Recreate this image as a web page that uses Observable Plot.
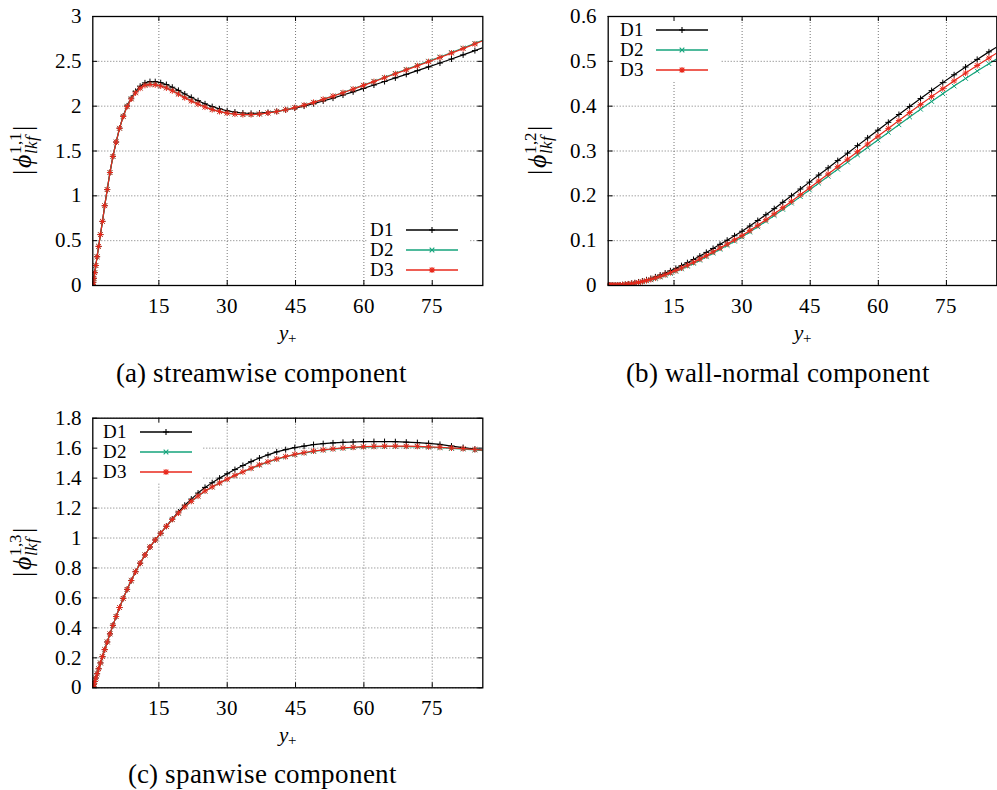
<!DOCTYPE html>
<html><head><meta charset="utf-8">
<script src="https://cdn.jsdelivr.net/npm/d3@7"></script>
<script src="https://cdn.jsdelivr.net/npm/@observablehq/plot@0.6"></script>
<style>
@font-face { font-family: "RefSerif"; font-style: normal; font-weight: 400;
  src: local("Liberation Serif"), local("LiberationSerif"), local("LiberationSerif-Regular"),
       local("DejaVu Serif"), local("DejaVuSerif"), local("Noto Serif"), local("NotoSerif-Regular"),
       local("FreeSerif"), local("Nimbus Roman"), local("NimbusRoman-Regular"), local("Times New Roman"); }
@font-face { font-family: "RefSerif"; font-style: italic; font-weight: 400;
  src: local("Liberation Serif Italic"), local("LiberationSerif-Italic"),
       local("DejaVu Serif Italic"), local("DejaVuSerif-Italic"), local("Noto Serif Italic"), local("NotoSerif-Italic"),
       local("FreeSerif Italic"), local("FreeSerifItalic"), local("Nimbus Roman Italic"), local("NimbusRoman-Italic"), local("Times New Roman Italic"); }
html,body{margin:0;padding:0;background:#fff;}
#root{position:relative;width:997px;height:790px;overflow:hidden;background:#fff;}
#root svg{position:absolute;}
</style></head><body>
<div id="root"></div>
<script>
// wall distance y+
const yPlus = [0.5, 0.526, 0.605, 0.736, 0.92, 1.156, 1.444, 1.784, 2.177, 2.621, 3.117, 3.665, 4.265, 4.916, 5.618, 6.371, 7.175, 8.029, 8.934, 9.889, 10.893, 11.947, 13.05, 14.202, 15.403, 16.651, 17.947, 19.291, 20.681, 22.118, 23.602, 25.13, 26.705, 28.325, 29.988, 31.695, 33.446, 35.24, 37.075, 38.954, 40.873, 42.832, 44.833, 46.871, 48.951, 51.067, 53.221, 55.413, 57.641, 59.905, 62.204, 64.537, 66.905, 69.305, 71.739, 74.203, 76.698, 79.225, 81.779, 84.365, 86.976];

const seriesNames = ["D1", "D2", "D3"];
const seriesColors = ["#000000", "#14a37b", "#e8291c"];

const xTicks = [15, 30, 45, 60, 75];
const aYTicks = [0, 0.5, 1, 1.5, 2, 2.5, 3];
const bYTicks = [0, 0.1, 0.2, 0.3, 0.4, 0.5, 0.6];
const cYTicks = [0, 0.2, 0.4, 0.6, 0.8, 1, 1.2, 1.4, 1.6, 1.8];

// (a) streamwise component
const aD1 = [0, 0.009, 0.036, 0.08, 0.143, 0.223, 0.321, 0.436, 0.568, 0.715, 0.89, 1.07, 1.26, 1.44, 1.6, 1.755, 1.89, 2.003, 2.09, 2.165, 2.222, 2.26, 2.274, 2.273, 2.262, 2.241, 2.211, 2.176, 2.136, 2.098, 2.061, 2.026, 1.995, 1.97, 1.949, 1.934, 1.924, 1.92, 1.922, 1.93, 1.942, 1.958, 1.978, 2.001, 2.028, 2.058, 2.09, 2.124, 2.16, 2.198, 2.236, 2.275, 2.315, 2.355, 2.396, 2.438, 2.481, 2.526, 2.572, 2.62, 2.67];
const aD2 = [0, 0.009, 0.036, 0.08, 0.143, 0.223, 0.321, 0.436, 0.568, 0.715, 0.89, 1.07, 1.26, 1.44, 1.6, 1.754, 1.887, 1.998, 2.083, 2.152, 2.203, 2.235, 2.245, 2.241, 2.228, 2.205, 2.174, 2.137, 2.097, 2.06, 2.024, 1.991, 1.963, 1.94, 1.923, 1.912, 1.906, 1.906, 1.912, 1.924, 1.941, 1.961, 1.985, 2.012, 2.044, 2.078, 2.114, 2.153, 2.193, 2.235, 2.278, 2.321, 2.366, 2.41, 2.455, 2.502, 2.549, 2.598, 2.648, 2.7, 2.754];
const aD3 = [0, 0.009, 0.036, 0.08, 0.143, 0.223, 0.321, 0.436, 0.568, 0.715, 0.89, 1.07, 1.26, 1.44, 1.6, 1.753, 1.885, 1.995, 2.08, 2.148, 2.2, 2.232, 2.242, 2.238, 2.225, 2.203, 2.172, 2.135, 2.095, 2.058, 2.023, 1.99, 1.962, 1.94, 1.923, 1.912, 1.906, 1.906, 1.912, 1.924, 1.94, 1.96, 1.984, 2.011, 2.042, 2.076, 2.112, 2.15, 2.19, 2.232, 2.274, 2.317, 2.361, 2.405, 2.45, 2.496, 2.543, 2.592, 2.642, 2.694, 2.748];

// (b) wall-normal component
const bD1 = [0, 0, 0, 0.00001, 0.00003, 0.00008, 0.00016, 0.00029, 0.0005, 0.0008, 0.0012, 0.0018, 0.0025, 0.0035, 0.0047, 0.0061, 0.0079, 0.0101, 0.0127, 0.0157, 0.0192, 0.0233, 0.0277, 0.0328, 0.0382, 0.0443, 0.0509, 0.058, 0.0656, 0.0738, 0.0826, 0.0918, 0.101, 0.111, 0.121, 0.1326, 0.1449, 0.1578, 0.1714, 0.1855, 0.2001, 0.2152, 0.2306, 0.2463, 0.2623, 0.2786, 0.2952, 0.312, 0.3292, 0.3464, 0.3639, 0.3814, 0.3992, 0.417, 0.4348, 0.4525, 0.47, 0.4873, 0.5043, 0.5211, 0.5376];
const bD2 = [0, 0, 0, 0.00001, 0.00002, 0.00006, 0.00013, 0.00023, 0.0004, 0.0006, 0.0009, 0.0014, 0.002, 0.0028, 0.0037, 0.0049, 0.0063, 0.0081, 0.0102, 0.0126, 0.0154, 0.0188, 0.0225, 0.0269, 0.0316, 0.037, 0.0429, 0.0494, 0.0564, 0.064, 0.0722, 0.0808, 0.0894, 0.0988, 0.1082, 0.1192, 0.1309, 0.1432, 0.1562, 0.1697, 0.1837, 0.1982, 0.213, 0.2281, 0.2435, 0.2592, 0.2752, 0.2914, 0.308, 0.3246, 0.3415, 0.3585, 0.3758, 0.3931, 0.4105, 0.4278, 0.4449, 0.4618, 0.4784, 0.4948, 0.5109];
const bD3 = [0, 0, 0, 0.00001, 0.00003, 0.00007, 0.00014, 0.00025, 0.00043, 0.0007, 0.001, 0.0015, 0.0021, 0.003, 0.004, 0.0052, 0.0068, 0.0087, 0.0109, 0.0135, 0.0166, 0.0202, 0.0241, 0.0287, 0.0335, 0.0391, 0.0452, 0.0518, 0.0589, 0.0666, 0.0749, 0.0836, 0.0923, 0.1018, 0.1113, 0.1224, 0.1342, 0.1467, 0.1599, 0.1736, 0.1878, 0.2026, 0.2177, 0.2331, 0.2489, 0.2651, 0.2817, 0.2985, 0.3157, 0.3329, 0.3504, 0.3679, 0.3857, 0.4035, 0.4213, 0.439, 0.4565, 0.4738, 0.4908, 0.5076, 0.5241];

// (c) spanwise component
const cD1 = [0, 0.0026, 0.0105, 0.0236, 0.042, 0.0654, 0.094, 0.127, 0.166, 0.208, 0.255, 0.306, 0.36, 0.417, 0.476, 0.536, 0.597, 0.657, 0.716, 0.775, 0.832, 0.887, 0.94, 0.987, 1.032, 1.079, 1.127, 1.174, 1.219, 1.26, 1.30, 1.338, 1.369, 1.40, 1.429, 1.457, 1.484, 1.51, 1.534, 1.555, 1.575, 1.59, 1.604, 1.614, 1.624, 1.63, 1.635, 1.639, 1.641, 1.643, 1.644, 1.644, 1.643, 1.64, 1.637, 1.632, 1.625, 1.614, 1.604, 1.593, 1.582];
const cD2 = [0, 0.0026, 0.0105, 0.0236, 0.042, 0.0654, 0.094, 0.127, 0.166, 0.208, 0.255, 0.306, 0.36, 0.417, 0.476, 0.536, 0.597, 0.657, 0.716, 0.775, 0.832, 0.887, 0.94, 0.987, 1.032, 1.077, 1.123, 1.166, 1.207, 1.244, 1.279, 1.312, 1.34, 1.367, 1.392, 1.417, 1.441, 1.464, 1.487, 1.507, 1.526, 1.542, 1.556, 1.567, 1.578, 1.586, 1.593, 1.599, 1.603, 1.607, 1.609, 1.611, 1.611, 1.61, 1.609, 1.606, 1.603, 1.598, 1.594, 1.588, 1.581];
const cD3 = [0, 0.0026, 0.0105, 0.0236, 0.042, 0.0654, 0.094, 0.127, 0.166, 0.208, 0.255, 0.306, 0.36, 0.417, 0.476, 0.536, 0.597, 0.657, 0.716, 0.775, 0.832, 0.887, 0.94, 0.987, 1.032, 1.078, 1.124, 1.167, 1.208, 1.245, 1.28, 1.314, 1.341, 1.368, 1.393, 1.418, 1.442, 1.466, 1.489, 1.509, 1.528, 1.544, 1.559, 1.57, 1.581, 1.589, 1.596, 1.602, 1.606, 1.61, 1.612, 1.614, 1.614, 1.613, 1.612, 1.609, 1.606, 1.601, 1.597, 1.591, 1.584];

const captions = ["(a) streamwise component", "(b) wall-normal component", "(c) spanwise component"];
const yLabelSups = ["1,1", "1,2", "1,3"];

const FONT = "RefSerif, 'Liberation Serif', 'DejaVu Serif', serif";

// gnuplot-like point types: + , x , star
const symPlus = {draw(c, size) { const r = Math.sqrt(size / Math.PI); c.moveTo(-r, 0); c.lineTo(r, 0); c.moveTo(0, -r); c.lineTo(0, r); }};
const symTimes = {draw(c, size) { const r = Math.sqrt(size / Math.PI) * 0.78; c.moveTo(-r, -r); c.lineTo(r, r); c.moveTo(-r, r); c.lineTo(r, -r); }};
const symStar = {draw(c, size) { symPlus.draw(c, size); symTimes.draw(c, size); }};
const symbols = [symPlus, symTimes, symStar];

const panels = [
  {left: 0, top: 0, width: 500, height: 320, mt: 16, mb: 35, ml: 92.3, mr: 17.7, yDomain: [0, 3], yTicks: aYTicks, series: [aD1, aD2, aD3],
   legend: {box: [367, 222, 470, 283], tx: 370, rows: [230, 250, 270], l1: 406, l2: 458, mx: 432}},
  {left: 500, top: 0, width: 497, height: 320, mt: 16, mb: 35, ml: 107.7, mr: 0.7, yDomain: [0, 0.6], yTicks: bYTicks, series: [bD1, bD2, bD3],
   legend: {box: [108.5, 16.7, 220, 80], tx: 120, rows: [30, 50, 70], l1: 156, l2: 208, mx: 182}},
  {left: 0, top: 400, width: 500, height: 320, mt: 17.7, mb: 32.7, ml: 92.3, mr: 17.7, yDomain: [0, 1.8], yTicks: cYTicks, series: [cD1, cD2, cD3],
   legend: {box: [93, 18.4, 203, 82], tx: 103, rows: [32, 52, 72], l1: 140, l2: 192, mx: 166}}
];

const root = document.getElementById("root");
const meas = d3.select("body").append("svg").attr("width", 1).attr("height", 1)
  .style("position", "absolute").style("left", "-50px").style("top", "0px");
function w100(s) {
  const t = meas.append("text").attr("font-family", FONT).attr("font-size", 100).text(s);
  const w = t.node().getComputedTextLength();
  t.remove();
  return w;
}
function fmt(d) { return String(d); }

function render() {
  root.innerHTML = "";
  const fit = (s, target) => 100 * target / w100(s);
  const TICK_FS = fit("2.5", 26);
  const LEG_FS = fit("D1", 23.3);
  const CAP_FS = fit("(a) streamwise component", 282);
  const XLAB_FS = LEG_FS * 1.12;
  const YLAB_FS = CAP_FS * 0.98;

  panels.forEach((p) => {
    const pw = p.width - p.ml - p.mr, ph = p.height - p.mt - p.mb;
    const gridStyle = {stroke: "#555", strokeOpacity: 1, strokeWidth: 0.8, strokeDasharray: "1,2"};
    const marks = [Plot.gridX(xTicks, gridStyle), Plot.gridY(p.yTicks, gridStyle)];
    p.series.forEach((vals, i) => {
      const rows = yPlus.map((x, j) => ({x, v: vals[j]}));
      marks.push(Plot.line(rows, {x: "x", y: "v", stroke: seriesColors[i], strokeWidth: 1.2, clip: true}));
      marks.push(Plot.dot(rows, {x: "x", y: "v", symbol: symbols[i], r: 3, stroke: seriesColors[i], fill: "none", strokeWidth: 1, clip: true}));
    });
    marks.push(
      Plot.frame({stroke: "#000", strokeWidth: 1.3}),
      Plot.tickX(xTicks, {x: d => d, insetTop: ph - 5, stroke: "#000", strokeWidth: 1}),
      Plot.tickX(xTicks, {x: d => d, insetBottom: ph - 5, stroke: "#000", strokeWidth: 1}),
      Plot.tickY(p.yTicks, {y: d => d, insetRight: pw - 5, stroke: "#000", strokeWidth: 1}),
      Plot.tickY(p.yTicks, {y: d => d, insetLeft: pw - 5, stroke: "#000", strokeWidth: 1}),
      Plot.axisX(xTicks, {anchor: "bottom", tickSize: 0, tickPadding: 12.5, fontSize: TICK_FS, tickFormat: fmt, label: null}),
      Plot.axisY(p.yTicks, {anchor: "left", tickSize: 0, tickPadding: 11, fontSize: TICK_FS, tickFormat: fmt, label: null})
    );
    const svg = Plot.plot({
      width: p.width, height: p.height,
      marginTop: p.mt, marginBottom: p.mb, marginLeft: p.ml, marginRight: p.mr,
      x: {domain: [0.5, 86.1], label: null},
      y: {domain: p.yDomain, label: null},
      style: {fontFamily: FONT, fontSize: "20px", color: "#000", background: "transparent", overflow: "visible"},
      marks
    });
    svg.style.left = p.left + "px";
    svg.style.top = p.top + "px";
    root.appendChild(svg);

    // legend (opaque key box as in gnuplot)
    const L = p.legend;
    const gridG = svg.querySelector("g[aria-label='y-grid']");
    const rect = document.createElementNS("http://www.w3.org/2000/svg", "rect");
    rect.setAttribute("x", L.box[0]); rect.setAttribute("y", L.box[1]);
    rect.setAttribute("width", L.box[2] - L.box[0]); rect.setAttribute("height", L.box[3] - L.box[1]);
    rect.setAttribute("fill", "#fff");
    if (gridG && gridG.nextSibling) gridG.parentNode.insertBefore(rect, gridG.nextSibling);
    else svg.appendChild(rect);
    const g = d3.select(svg).append("g").attr("font-family", FONT).attr("text-anchor", "start");
    seriesNames.forEach((name, i) => {
      const cy = L.rows[i];
      g.append("text").attr("x", L.tx).attr("y", cy + 0.33 * LEG_FS).attr("font-size", LEG_FS).attr("fill", "#000").text(name);
      g.append("line").attr("x1", L.l1).attr("x2", L.l2).attr("y1", cy).attr("y2", cy)
        .attr("stroke", seriesColors[i]).attr("stroke-width", 1.3);
      const path = d3.path();
      symbols[i].draw(path, Math.PI * 9);
      g.append("path").attr("d", path.toString()).attr("transform", `translate(${L.mx},${cy})`)
        .attr("stroke", seriesColors[i]).attr("fill", "none").attr("stroke-width", 1.1);
    });
  });

  // overlay for axis titles and captions
  const ov = d3.select(root).append("svg").attr("width", 997).attr("height", 790)
    .style("left", "0px").style("top", "0px").style("pointer-events", "none")
    .attr("font-family", FONT).attr("fill", "#000");

  function xLabel(cx, baseline) {
    const t = ov.append("text").attr("x", cx).attr("y", baseline).attr("text-anchor", "middle").attr("font-size", XLAB_FS);
    t.append("tspan").attr("font-style", "italic").text("y");
    t.append("tspan").attr("font-size", XLAB_FS * 0.68).attr("dy", 4).text("+");
  }
  function yLabel(cx, cy, sup) {
    const g = ov.append("g").attr("transform", `translate(${cx},${cy}) rotate(-90)`);
    const big = YLAB_FS, small = YLAB_FS * 0.66;
    const t1 = g.append("text").attr("font-size", big).text("|");
    const t2 = g.append("text").attr("font-size", big).attr("font-style", "italic").text("\u03D5");
    const t3 = g.append("text").attr("font-size", small).text(sup);
    const t4 = g.append("text").attr("font-size", small).attr("font-style", "italic").text("lkf");
    const t5 = g.append("text").attr("font-size", big).text("|");
    const w = n => n.node().getComputedTextLength();
    let x = 0;
    const pos = [];
    pos.push([t1, x, 0]); x += w(t1) + 1.5;
    pos.push([t2, x, 0]); x += w(t2) + 1;
    pos.push([t3, x, -0.38 * big]); pos.push([t4, x, 0.24 * big]);
    x += Math.max(w(t3), w(t4)) + 1.5;
    pos.push([t5, x, 0]); x += w(t5);
    pos.forEach(([t, px, py]) => t.attr("x", px - x / 2).attr("y", py + 0.27 * big));
  }
  function caption(cx, baseline, text) {
    ov.append("text").attr("x", cx).attr("y", baseline).attr("text-anchor", "middle").attr("font-size", CAP_FS).text(text);
  }

  xLabel(287.3, 340);
  xLabel(802.2, 340);
  xLabel(287.3, 742);
  yLabel(24, 150, yLabelSups[0]);
  yLabel(539, 150, yLabelSups[1]);
  yLabel(24, 552, yLabelSups[2]);
  caption(261, 382, captions[0]);
  caption(778, 382, captions[1]);
  caption(262, 783, captions[2]);
}

render();
if (document.fonts && document.fonts.load) {
  Promise.all([
    document.fonts.load("20px RefSerif"),
    document.fonts.load("italic 20px RefSerif")
  ]).then(render, () => {});
}
</script>
</body></html>
